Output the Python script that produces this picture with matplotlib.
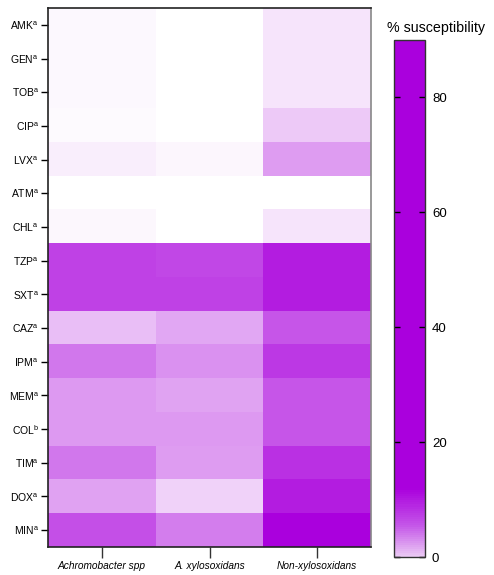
import matplotlib
matplotlib.use("Agg")
import matplotlib.pyplot as plt
import numpy as np
from matplotlib.colors import LinearSegmentedColormap, Normalize
from matplotlib.cm import ScalarMappable

plt.rcParams['font.family'] = ['Liberation Sans', 'DejaVu Sans']
plt.rcParams['mathtext.fontset'] = 'custom'
plt.rcParams['mathtext.rm'] = 'Liberation Sans'

# antibiotics (top to bottom) and footnote letters
drugs = ['AMK', 'GEN', 'TOB', 'CIP', 'LVX', 'ATM', 'CHL', 'TZP',
         'SXT', 'CAZ', 'IPM', 'MEM', 'COL', 'TIM', 'DOX', 'MIN']
notes = ['a', 'a', 'a', 'a', 'a', 'a', 'a', 'a',
         'a', 'a', 'a', 'a', 'b', 'a', 'a', 'a']
groups = ['Achromobacter spp', 'A. xylosoxidans', 'Non-xylosoxidans']

# % susceptibility per group
achromobacter = [2.5, 2.5, 2.5, 2, 6, 0, 3, 67, 67, 23, 48, 36, 36, 48, 33, 62]
xylosoxidans = [0, 0, 0, 0, 3.5, 0, 0, 65, 67, 31, 39, 32, 36, 35, 16, 46]
non_xylosoxidans = [9.5, 9.5, 9.5, 19, 35, 0, 9.5, 80, 80, 60, 70, 60, 60, 73, 80, 90]

vmin, vmax = 0, 90

cell_cmap = LinearSegmentedColormap.from_list('cells', ['#ffffff', '#aa00dd'])
bar_cmap = LinearSegmentedColormap.from_list(
    'bar', [(0.0, '#eac8f4'), (0.06, '#c456e8'), (0.13, '#aa00dd'), (1.0, '#aa00dd')])

data = np.array([achromobacter, xylosoxidans, non_xylosoxidans]).T

fig = plt.figure(figsize=(4.94, 5.75), dpi=100)
ax = fig.add_axes([0.0972, 0.0487, 0.6538, 0.9374])

ax.imshow(data, cmap=cell_cmap, vmin=vmin, vmax=vmax, aspect='auto',
          interpolation='nearest', extent=(-0.5, len(groups) - 0.5, len(drugs) - 0.5, -0.5))

ax.set_xticks(range(len(groups)))
ax.set_xticklabels(groups, fontstyle='italic', fontsize=7.3)
ax.set_yticks(range(len(drugs)))
ax.set_yticklabels([d + r'$^{\mathrm{' + n + '}}$' for d, n in zip(drugs, notes)], fontsize=7.5)
ax.tick_params(axis='x', length=8, width=1, pad=2, color='#333333')
ax.tick_params(axis='y', length=5, width=1, pad=1.5)

for side in ['left', 'bottom', 'top']:
    ax.spines[side].set_linewidth(1.2)
    ax.spines[side].set_color('#222222')
ax.spines['right'].set_color('#888888')
ax.spines['right'].set_linewidth(1.2)

# colorbar
cax = fig.add_axes([0.7976, 0.0313, 0.0628, 0.8991])
sm = ScalarMappable(norm=Normalize(vmin, vmax), cmap=bar_cmap)
cb = fig.colorbar(sm, cax=cax, ticks=[0, 20, 40, 60, 80])
cb.outline.set_edgecolor('#333333')
cb.outline.set_linewidth(1)
cax.tick_params(axis='y', which='both', direction='in', length=4, width=1,
                labelsize=9.5, pad=5, left=True, right=True)
fig.text(0.883, 1 - 28 / 575, '% susceptibility', ha='center', va='center', fontsize=10.3)

fig.savefig('out.png', dpi=100)
